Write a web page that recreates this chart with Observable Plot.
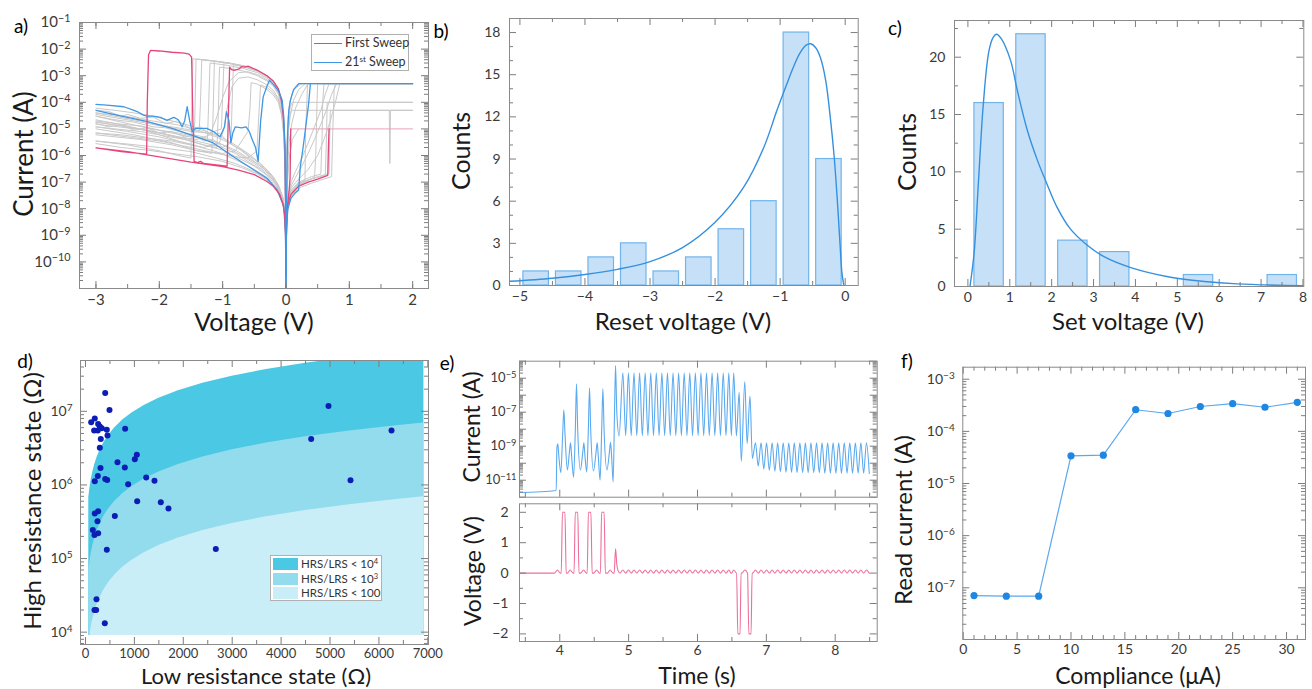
<!DOCTYPE html>
<html><head><meta charset="utf-8">
<script src="https://cdn.jsdelivr.net/npm/d3@7"></script>
<script src="https://cdn.jsdelivr.net/npm/@observablehq/plot@0.6"></script>
<style>
body{margin:0;background:#fff;}
#fig{position:relative;width:1312px;height:689px;overflow:hidden;font-family:Lato,"Noto Sans",sans-serif;background:#fff;}
.lab{position:absolute;white-space:nowrap;color:#1a1a1a;transform:translate(-50%,-50%);line-height:1;}
.rot{transform:translate(-50%,-50%) rotate(-90deg);}
.plab{position:absolute;white-space:nowrap;color:#000;font-size:19px;transform:translate(-50%,-50%);line-height:1;}
.leg{position:absolute;border:1px solid #b0b0b0;background:#fff;box-sizing:border-box;}
.leg .row{position:absolute;white-space:nowrap;line-height:1;color:#333;}
sup{font-size:0.65em;vertical-align:0.55em;line-height:0;}
</style></head><body><div id="fig"></div>
<script>
// ---------------- DATA ----------------
// (a) I-V sweeps: [voltage V, current A]
const redNeg = [[0,3e-11],[-0.004,4e-10],[-0.01,2e-9],[-0.02,6e-9],[-0.05,1.6e-8],[-0.1,3.5e-8],[-0.2,7e-8],[-0.3,1.05e-7],[-0.5,1.9e-7],[-0.75,2.8e-7],[-1.0,3.8e-7],[-1.25,4.6e-7],[-1.5,5.6e-7],[-2.0,8.9e-7],[-2.5,1.4e-6],[-3,1.95e-6],
 [-2.6,1.4e-6],[-2.2,1.12e-6],[-2.19,1e-4],[-2.17,6e-3],[-2.14,8.9e-3],[-2.0,8.5e-3],[-1.8,7.6e-3],[-1.6,7e-3],[-1.53,6.5e-3],[-1.49,5e-3],[-1.47,2e-5],[-1.45,6e-7],[-1.4,5.4e-7],[-1.35,6e-7],[-1.3,5e-7],[-1.1,4.4e-7],[-0.93,4e-7],[-0.91,3e-5],[-0.89,2.1e-3],[-0.86,1.7e-3],[-0.82,1.6e-3],[-0.78,1.7e-3],[-0.74,1.8e-3],[-0.7,2.2e-3],[-0.65,2.1e-3],[-0.6,2.3e-3],[-0.45,1.6e-3],[-0.3,1e-3],[-0.2,6.3e-4],[-0.12,3.2e-4],[-0.07,1.1e-4],[-0.04,2.5e-5],[-0.02,2.5e-6],[-0.01,1.6e-7],[-0.004,5e-9],[0,3e-11]];
const redPos = [[0,3e-11],[0.004,5e-10],[0.01,3e-9],[0.03,1.5e-8],[0.08,3.5e-8],[0.2,7e-8],[0.35,1e-7],[0.5,1.3e-7],[0.66,1.8e-7],[0.67,2e-6],[0.68,1e-5]];
const redCompliance = [[0.075,1e-5],[2,1e-5]];
const redReturn = [[0.075,1e-5],[0.07,1e-6],[0.065,1.5e-7],[0.05,5e-8],[0.02,1e-8],[0.005,6e-10],[0,3e-11]];
const bluePos = [[0,1e-11],[0.005,8e-10],[0.01,2.5e-9],[0.03,1e-8],[0.08,2.5e-8],[0.15,4e-8],[0.2,5e-8],[0.226,3.8e-7],[0.27,2e-6],[0.305,9e-6],[0.358,9e-5],[0.385,5e-4],[2,5e-4]];
const blueReturn = [[0.385,5e-4],[0.2,5e-4],[0.12,3e-4],[0.07,1.2e-4],[0.044,5e-5],[0.028,9e-6],[0.018,6.8e-7],[0.013,6.8e-8],[0.007,5e-9],[0.002,1e-10],[0,1e-11]];
const blueNeg = [[0,2e-11],[-0.009,9e-8],[-0.019,3.8e-6],[-0.035,2.8e-5],[-0.06,1.2e-4],[-0.11,2.5e-4],[-0.19,4.4e-4],[-0.26,6.8e-4],[-0.3,4e-4],[-0.36,1.6e-4],[-0.4,2e-5],[-0.44,6e-7],[-0.48,2e-6],[-0.53,3.8e-6],[-0.58,8e-6],[-0.63,1.2e-5],[-0.7,1.1e-5],[-0.8,1.2e-5],[-0.84,7e-6],[-0.87,3e-6],[-0.9,2e-5],[-0.94,4.4e-5],[-0.97,1.2e-5],[-1.04,5.1e-6],[-1.14,7.8e-6],[-1.25,1.05e-5],[-1.35,1.05e-5],[-1.43,1.05e-5],[-1.48,7.8e-6],[-1.52,2e-5],[-1.56,6.8e-5],[-1.6,2e-5],[-1.64,1.2e-5],[-1.7,2.2e-5],[-1.77,2.7e-5],[-1.88,2.1e-5],[-1.98,2.7e-5],[-2.1,3e-5],[-2.19,3e-5],[-2.25,3.3e-5],[-2.35,4.5e-5],[-2.4,5e-5],[-2.56,6.8e-5],[-2.83,7.8e-5],[-3,8.3e-5]];
const blueHRS = [[-3,5e-5],[-2.6,3e-5],[-2.2,1.9e-5],[-1.8,1.05e-5],[-1.42,5.1e-6],[-1.14,2.9e-6],[-0.83,9e-7],[-0.51,2.9e-7],[-0.3,1.4e-7],[-0.14,5.1e-8],[-0.035,1.2e-8],[-0.009,1.3e-9],[0,3e-11]];
const graySweeps = [
 [[0,3e-11],[-0.005,1e-8],[-0.01,1.6e-7],[-0.02,2.5e-6],[-0.04,2.5e-5],[-0.07,1.1e-4],[-0.12,3.2e-4],[-0.2,6.3e-4],[-0.3,1e-3],[-0.45,1.6e-3],[-0.65,2.3e-3],[-0.9,3e-3],[-1.1,3.5e-3],[-1.3,4e-3],[-1.42,4.2e-3],[-1.44,2e-5],[-1.46,2.5e-6],[-1.7,3.5e-6],[-2.0,6e-6],[-2.3,1e-5],[-2.7,1.6e-5],[-3,2.2e-5]],
 [[0,3e-11],[-0.005,8e-9],[-0.01,1.3e-7],[-0.02,2e-6],[-0.04,2e-5],[-0.07,9e-5],[-0.12,2.5e-4],[-0.2,5e-4],[-0.3,8e-4],[-0.45,1.3e-3],[-0.65,1.8e-3],[-0.9,2.4e-3],[-1.1,2.8e-3],[-1.2,3e-3],[-1.22,1e-4],[-1.24,4e-6],[-1.5,5e-6],[-1.8,7e-6],[-2.2,1.1e-5],[-2.6,1.8e-5],[-3,3e-5]],
 [[0,3e-11],[-0.005,6e-9],[-0.01,1e-7],[-0.02,1.6e-6],[-0.04,1.6e-5],[-0.07,7e-5],[-0.12,2e-4],[-0.2,4e-4],[-0.3,6.3e-4],[-0.45,1e-3],[-0.65,1.45e-3],[-0.9,1.9e-3],[-1.05,2.1e-3],[-1.07,3e-5],[-1.09,2e-6],[-1.3,2.5e-6],[-1.6,4e-6],[-2.0,7e-6],[-2.5,1.2e-5],[-3,1.8e-5]],
 [[0,3e-11],[-0.005,5e-9],[-0.01,7e-8],[-0.02,1.1e-6],[-0.04,1.1e-5],[-0.07,5e-5],[-0.12,1.4e-4],[-0.2,2.8e-4],[-0.3,4.5e-4],[-0.45,7e-4],[-0.6,9e-4],[-0.75,8e-4],[-0.85,4e-4],[-0.92,8e-5],[-0.98,1e-5],[-1.05,3e-6],[-1.3,2e-6],[-1.6,3e-6],[-2.0,5e-6],[-2.5,8e-6],[-3,1.2e-5]],
 [[0,3e-11],[-0.005,3e-9],[-0.01,5e-8],[-0.02,7.5e-7],[-0.04,7.5e-6],[-0.07,3.3e-5],[-0.12,1e-4],[-0.2,1.9e-4],[-0.3,3e-4],[-0.45,4.8e-4],[-0.55,5.5e-4],[-0.57,5e-5],[-0.6,8e-6],[-0.8,1.5e-6],[-1.0,1.2e-6],[-1.4,1.5e-6],[-1.8,2.5e-6],[-2.3,4e-6],[-3,6e-6]],
 [[0,3e-11],[-0.005,9e-9],[-0.01,1.5e-7],[-0.02,2.3e-6],[-0.04,2.3e-5],[-0.07,1e-4],[-0.12,3e-4],[-0.2,6e-4],[-0.3,9.5e-4],[-0.45,1.5e-3],[-0.65,2.2e-3],[-0.9,2.9e-3],[-1.1,3.4e-3],[-1.33,3.9e-3],[-1.35,1e-4],[-1.37,8e-6],[-1.6,1e-5],[-1.9,1.3e-5],[-2.3,2e-5],[-2.7,3e-5],[-3,4e-5]],
 [[0,3e-11],[-0.005,9e-9],[-0.01,1.4e-7],[-0.02,2.2e-6],[-0.04,2.2e-5],[-0.07,1e-4],[-0.12,2.9e-4],[-0.2,5.8e-4],[-0.3,9e-4],[-0.45,1.45e-3],[-0.65,2.1e-3],[-0.83,2.6e-3],[-0.85,1e-4],[-0.87,3e-6],[-1.0,2e-6],[-1.3,3e-6],[-1.7,5e-6],[-2.2,9e-6],[-3,1.5e-5]],
 [[0,3e-11],[-0.005,1e-8],[-0.01,1.6e-7],[-0.02,2.5e-6],[-0.04,2.4e-5],[-0.07,1.05e-4],[-0.12,3.1e-4],[-0.2,6.2e-4],[-0.3,1e-3],[-0.45,1.55e-3],[-0.65,2.25e-3],[-0.9,2.95e-3],[-1.13,3.5e-3],[-1.15,4e-5],[-1.17,1.2e-6],[-1.4,1.5e-6],[-1.8,3e-6],[-2.4,6e-6],[-3,1e-5]],
 [[0,3e-11],[-0.01,1.2e-7],[-0.02,1.8e-6],[-0.04,1.8e-5],[-0.07,8e-5],[-0.12,2.3e-4],[-0.2,4.6e-4],[-0.3,7e-4],[-0.45,1.1e-3],[-0.6,1.4e-3],[-0.75,1.3e-3],[-0.9,6e-4],[-1.0,1.5e-4],[-1.1,2.5e-5],[-1.2,6e-6],[-1.4,4e-6],[-1.7,5e-6],[-2.1,8e-6],[-2.6,1.3e-5],[-3,1.8e-5]],
 [[0,3e-11],[-0.01,1.6e-7],[-0.02,2.5e-6],[-0.04,2.5e-5],[-0.07,1.1e-4],[-0.12,3.2e-4],[-0.2,6.3e-4],[-0.3,1e-3],[-0.45,1.6e-3],[-0.65,2.3e-3],[-0.9,3e-3],[-1.1,3.5e-3],[-1.3,4e-3],[-1.47,4.3e-3],[-1.49,3e-5],[-1.5,8e-7],[-1.7,1e-6],[-2.0,1.5e-6],[-2.5,2.5e-6],[-3,3.5e-6]],
 [[0,3e-11],[-0.01,6e-8],[-0.02,9e-7],[-0.04,9e-6],[-0.07,4e-5],[-0.12,1.2e-4],[-0.2,2.3e-4],[-0.3,3.6e-4],[-0.4,4.5e-4],[-0.43,3e-5],[-0.46,1.5e-6],[-0.6,8e-7],[-0.8,9e-7],[-1.1,1.2e-6],[-1.5,2e-6],[-2.0,3.5e-6],[-2.5,5e-6],[-3,7e-6]],
 [[0,3e-11],[-0.01,1.5e-7],[-0.02,2.4e-6],[-0.04,2.4e-5],[-0.07,1.05e-4],[-0.12,3e-4],[-0.2,6e-4],[-0.3,9.8e-4],[-0.45,1.55e-3],[-0.65,2.25e-3],[-0.9,2.9e-3],[-0.98,3.1e-3],[-1.0,1.5e-4],[-1.02,1e-5],[-1.2,7e-6],[-1.5,8e-6],[-1.9,1.2e-5],[-2.4,2e-5],[-3,3.5e-5]],
 [[-3,6e-5],[-2.7,5e-5],[-2.4,4e-5],[-2.1,3e-5],[-1.8,2e-5],[-1.5,1.3e-5],[-1.2,7e-6],[-1.0,4.5e-6],[-0.8,2.5e-6],[-0.6,1.2e-6],[-0.4,5e-7],[-0.25,2.2e-7],[-0.12,8e-8],[-0.05,2.5e-8],[-0.02,8e-9],[-0.008,1.5e-9],[0,3e-11]],
 [[-3,4e-5],[-2.6,3.2e-5],[-2.3,2.4e-5],[-2.0,1.8e-5],[-1.7,1.4e-5],[-1.4,9e-6],[-1.1,5e-6],[-0.9,3e-6],[-0.7,1.6e-6],[-0.5,7e-7],[-0.3,2.8e-7],[-0.15,1e-7],[-0.06,3e-8],[-0.02,8e-9],[-0.008,1.5e-9],[0,3e-11]],
 [[-3,3e-5],[-2.7,2.2e-5],[-2.4,1.8e-5],[-2.1,1.2e-5],[-1.9,1.1e-5],[-1.6,7e-6],[-1.3,5e-6],[-1.0,2.5e-6],[-0.7,1e-6],[-0.5,5e-7],[-0.3,2.2e-7],[-0.15,8e-8],[-0.06,2.5e-8],[-0.02,7e-9],[-0.008,1.2e-9],[0,3e-11]],
 [[-3,2e-5],[-2.6,1.5e-5],[-2.3,1.3e-5],[-2.0,9e-6],[-1.7,7e-6],[-1.4,5e-6],[-1.1,3.2e-6],[-0.8,1.6e-6],[-0.6,8e-7],[-0.4,4e-7],[-0.2,1.6e-7],[-0.1,6e-8],[-0.04,2e-8],[-0.015,5e-9],[-0.005,8e-10],[0,3e-11]],
 [[-3,1.2e-5],[-2.7,1e-5],[-2.3,8e-6],[-2.0,6e-6],[-1.6,4e-6],[-1.3,2.5e-6],[-1.0,1.6e-6],[-0.75,8e-7],[-0.5,4e-7],[-0.3,1.8e-7],[-0.15,7e-8],[-0.05,2.2e-8],[-0.015,5e-9],[-0.005,8e-10],[0,3e-11]],
 [[-3,7e-6],[-2.6,6e-6],[-2.2,4.5e-6],[-1.8,3.5e-6],[-1.4,2.2e-6],[-1.1,1.4e-6],[-0.8,7e-7],[-0.55,3.5e-7],[-0.3,1.5e-7],[-0.15,6e-8],[-0.05,2e-8],[-0.015,4e-9],[-0.005,7e-10],[0,3e-11]],
 [[-3,3.5e-6],[-2.5,2.7e-6],[-2.0,2e-6],[-1.5,1.4e-6],[-1.1,8e-7],[-0.8,5e-7],[-0.5,2.5e-7],[-0.3,1.3e-7],[-0.15,5e-8],[-0.05,1.8e-8],[-0.015,4e-9],[-0.005,6e-10],[0,3e-11]],
 [[-3,5e-5],[-2.8,4.5e-5],[-2.6,3e-5],[-2.5,3.5e-5],[-2.3,2.5e-5],[-2.1,2.8e-5],[-1.9,1.6e-5],[-1.7,2e-5],[-1.5,1e-5],[-1.35,1.2e-5],[-1.2,6e-6],[-1.05,7e-6],[-0.9,3e-6],[-0.7,1.5e-6],[-0.5,6e-7],[-0.3,2.5e-7],[-0.15,9e-8],[-0.05,2.8e-8],[-0.015,6e-9],[-0.005,9e-10],[0,3e-11]],
 [[-3,1.6e-5],[-2.8,1.2e-5],[-2.6,1.4e-5],[-2.4,9e-6],[-2.2,1.1e-5],[-2.0,7e-6],[-1.8,8e-6],[-1.6,5e-6],[-1.45,6e-6],[-1.3,3.5e-6],[-1.15,4e-6],[-1.0,2e-6],[-0.8,1.2e-6],[-0.6,6e-7],[-0.4,3e-7],[-0.2,1.2e-7],[-0.08,4e-8],[-0.02,8e-9],[-0.006,1e-9],[0,3e-11]],
 [[-3,2.8e-6],[-2.6,2e-6],[-2.2,1.6e-6],[-1.8,1.2e-6],[-1.4,9e-7],[-1.0,6e-7],[-0.7,3.5e-7],[-0.45,2e-7],[-0.25,1e-7],[-0.1,4e-8],[-0.03,1.2e-8],[-0.01,3e-9],[0,3e-11]],
 [[0,3e-11],[0.005,6e-10],[0.01,3e-9],[0.03,1.5e-8],[0.08,4e-8],[0.2,8e-8],[0.35,1.2e-7],[0.45,1.5e-7],[0.47,1e-6],[0.48,1e-5],[0.49,1e-4],[0.5,5e-4],[2,5e-4]],
 [[0,3e-11],[0.005,8e-10],[0.01,4e-9],[0.03,2e-8],[0.08,5e-8],[0.2,1e-7],[0.4,1.6e-7],[0.55,2e-7],[0.57,5e-6],[0.58,1e-4],[0.6,5e-4],[2,5e-4]],
 [[0,3e-11],[0.005,5e-10],[0.01,2.5e-9],[0.03,1.2e-8],[0.08,3e-8],[0.2,6e-8],[0.4,9e-8],[0.6,1.3e-7],[0.72,1.6e-7],[0.74,1e-5],[0.76,3e-4],[0.78,5e-4],[2,5e-4]],
 [[0,3e-11],[0.005,1e-9],[0.01,5e-9],[0.03,2.5e-8],[0.08,7e-8],[0.15,1.5e-7],[0.25,4e-7],[0.35,1.2e-6],[0.45,4e-6],[0.55,1.5e-5],[0.65,6e-5],[0.72,2e-4],[0.8,5e-4],[2,5e-4]],
 [[0,3e-11],[0.005,1.2e-9],[0.01,6e-9],[0.03,3e-8],[0.08,1e-7],[0.15,2.5e-7],[0.25,8e-7],[0.35,3e-6],[0.45,1.2e-5],[0.55,5e-5],[0.62,2e-4],[0.68,5e-4],[2,5e-4]],
 [[0,3e-11],[0.005,7e-10],[0.01,3.5e-9],[0.03,1.7e-8],[0.08,4.5e-8],[0.2,9e-8],[0.3,1.2e-7],[0.31,1e-5],[0.33,1e-4],[0.34,5e-4],[2,5e-4]],
 [[0,3e-11],[0.005,6e-10],[0.01,3e-9],[0.03,1.5e-8],[0.08,4e-8],[0.2,8e-8],[0.4,1.3e-7],[0.62,1.8e-7],[0.64,5e-6],[0.65,1e-4],[2,1e-4]],
 [[0,3e-11],[0.005,6e-10],[0.01,3e-9],[0.03,1.5e-8],[0.08,4e-8],[0.25,1e-7],[0.5,1.6e-7],[0.68,2.1e-7],[0.69,5e-6],[0.7,5e-5],[1.63,5e-5],[1.64,5e-7],[1.65,5e-5],[2,5e-5]],
 [[0,3e-11],[0.005,8e-10],[0.01,4e-9],[0.03,2e-8],[0.08,6e-8],[0.2,1.3e-7],[0.35,3e-7],[0.5,1e-6],[0.6,4e-6],[0.7,2e-5],[0.78,1e-4],[0.85,5e-4],[2,5e-4]],
 [[2,5e-4],[0.25,5e-4],[0.15,3.5e-4],[0.1,2.2e-4],[0.06,1e-4],[0.035,3e-5],[0.02,6e-6],[0.01,3e-7],[0.005,5e-9],[0,3e-11]],
 [[2,1e-4],[0.1,1e-4],[0.07,7e-5],[0.04,2.5e-5],[0.02,4e-6],[0.01,2e-7],[0.004,5e-9],[0,3e-11]],
 [[2,5e-5],[0.09,5e-5],[0.06,3e-5],[0.035,1e-5],[0.02,2e-6],[0.01,1e-7],[0.004,4e-9],[0,3e-11]],
 [[0.3,5e-4],[0.2,3e-4],[0.12,1.2e-4],[0.07,3.5e-5],[0.04,8e-6],[0.02,1e-6],[0.01,5e-8],[0,3e-11]],
 [[0.35,5e-4],[0.25,2e-4],[0.15,6e-5],[0.09,1.5e-5],[0.05,3e-6],[0.025,4e-7],[0.01,2e-8],[0,3e-11]],
 [[0.2,1e-5],[0.1,4e-6],[0.05,8e-7],[0.02,7e-8],[0.008,5e-9],[0,3e-11]]
];

// (b) reset voltage histogram
const resetBinStart = [-5,-4.5,-4,-3.5,-3,-2.5,-2,-1.5,-1,-0.5];
const resetCounts = [1,1,2,3,1,2,4,6,18,9];
const resetFit = [[-5.16,0.3],[-4.5,0.52],[-4.0,0.78],[-3.5,1.15],[-3.0,1.7],[-2.5,2.7],[-2.0,4.5],[-1.56,7.0],[-1.25,9.84],[-1.05,12.45],[-0.9,14.3],[-0.8,15.5],[-0.7,16.5],[-0.6,17.1],[-0.53,17.2],[-0.45,16.9],[-0.38,16.2],[-0.3,14.6],[-0.23,12.0],[-0.17,9.2],[-0.12,6.0],[-0.08,3.0],[-0.05,0.9],[-0.02,0]];
// (c) set voltage histogram
const setBinStart = [0,1,2,3,4,5,6,7];
const setCounts = [16,22,4,3,0,1,0,1];
const setFit = [[0.05,0],[0.15,3],[0.25,9],[0.37,16],[0.5,20.5],[0.6,21.7],[0.68,22],[0.8,21.6],[1.02,19.7],[1.18,17.1],[1.42,13.6],[1.66,11.0],[1.87,9.1],[2.13,6.9],[2.45,5.0],[2.85,3.6],[3.25,2.6],[3.89,1.65],[4.84,0.81],[5.64,0.44],[6.43,0.23],[8.02,0.06]];
// (d) HRS vs LRS
const lrsValues = [403,491,116,190,177,259,293,334,252,436,313,450,293,811,307,654,804,1009,1050,252,403,444,190,872,1241,1411,1057,1540,1697,600,259,190,245,150,259,184,436,2665,225,184,218,395,4969,6258,4615,5419];
const hrsValues = [1.78e7,1.04e7,7.1e6,7.96e6,5.5e6,6.7e6,6.2e6,5.9e6,5.5e6,5.6e6,4.2e6,4.7e6,3.2e6,5.8e6,1.7e6,2.04e6,1.72e6,2.23e6,2.57e6,1.32e6,1.2e6,1.17e6,1.12e6,1.02e6,1.26e6,1.14e6,6.0e5,5.8e5,4.8e5,3.77e5,4.4e5,4.1e5,3.2e5,2.45e5,2.2e5,2.09e5,1.32e5,1.35e5,2.8e4,2.0e4,2.0e4,1.32e4,1.18e7,5.5e6,4.2e6,1.16e6];
const ratioLimits = [1e4, 1e3, 100];
const ratioLabels = ["HRS/LRS &lt; 10<sup>4</sup>","HRS/LRS &lt; 10<sup>3</sup>","HRS/LRS &lt; 100"];
const lrsGrid = [67,75,85,100,120,150,190,240,300,380,480,600,760,950,1200,1500,1900,2400,3000,3700,4500,5400,6400,6920];
const hrsFloor = 9e3;
// (e) pulse response: current trace [time s, current A]
const eCurrent = [[3.415,1.9e-12],[3.948,2.5e-12],[3.958,8e-10],[3.972,1.4e-9],[3.985,3e-10],[4.015,2.8e-11],
[4.042,5e-9],[4.059,1.4e-7],[4.076,5e-9],[4.11,4e-11],[4.141,5e-10],[4.156,1.6e-9],[4.171,3e-10],[4.2,1.5e-11],
[4.226,1e-8],[4.243,4.7e-6],[4.26,1e-8],[4.3,4e-11],[4.335,5e-10],[4.35,1.6e-9],[4.365,3e-10],[4.392,3e-11],
[4.415,1e-8],[4.432,2.6e-6],[4.449,1e-8],[4.49,3.5e-11],[4.528,5e-10],[4.543,1.6e-9],[4.558,3e-10],[4.585,1e-11],
[4.609,1e-8],[4.626,2.4e-6],[4.643,1e-8],[4.685,4e-11],[4.722,5e-10],[4.737,1.7e-9],[4.752,3e-10],[4.775,8e-12],
[4.795,1e-7],[4.81,5.5e-5],[4.828,1e-7],[4.862,4e-9],
[4.916,2.1e-5],[4.957,4.2e-9],[4.997,2.1e-5],[5.037,4.2e-9],[5.078,2.1e-5],[5.118,4.2e-9],[5.159,2.1e-5],[5.199,4.2e-9],[5.240,2.1e-5],[5.280,4.2e-9],[5.321,2.1e-5],[5.361,4.2e-9],[5.402,2.1e-5],[5.442,4.2e-9],[5.483,2.1e-5],[5.523,4.2e-9],[5.564,2.1e-5],[5.604,4.2e-9],[5.645,2.1e-5],[5.685,4.2e-9],[5.726,2.1e-5],[5.766,4.2e-9],[5.807,2.1e-5],[5.847,4.2e-9],[5.888,2.1e-5],[5.928,4.2e-9],[5.969,2.1e-5],[6.009,4.2e-9],[6.050,2.1e-5],[6.090,4.2e-9],[6.131,2.1e-5],[6.171,4.2e-9],[6.212,2.1e-5],[6.252,4.2e-9],[6.293,2.1e-5],[6.333,4.2e-9],[6.374,2.1e-5],[6.414,4.2e-9],[6.455,2.1e-5],[6.492,4.2e-9],[6.526,2.1e-5],[6.565,4e-9],
[6.605,1.5e-6],[6.636,1.3e-10],[6.687,6.4e-6],[6.721,1.4e-9],[6.762,9e-7],[6.797,1.9e-10],
[6.842,1.6e-9],[6.882,6.8e-11],[6.923,1.6e-9],[6.963,4.6e-11],[7.003,1.6e-9],[7.043,3.8e-11],[7.084,1.6e-9],[7.124,3.4e-11],[7.164,1.6e-9],[7.204,3.1e-11],[7.245,1.6e-9],[7.285,3e-11],[7.326,1.6e-9],[7.366,2.9e-11],[7.406,1.6e-9],[7.446,2.8e-11],[7.487,1.6e-9],[7.527,2.8e-11],[7.567,1.6e-9],[7.607,2.7e-11],[7.648,1.6e-9],[7.688,2.7e-11],[7.729,1.6e-9],[7.769,2.7e-11],[7.809,1.6e-9],[7.849,2.6e-11],[7.890,1.6e-9],[7.930,2.6e-11],[7.970,1.6e-9],[8.010,2.6e-11],[8.051,1.6e-9],[8.091,2.6e-11],[8.132,1.6e-9],[8.172,2.6e-11],[8.212,1.6e-9],[8.252,2.6e-11],[8.293,1.6e-9],[8.333,2.6e-11],[8.373,1.6e-9],[8.413,2.6e-11],[8.454,1.6e-9],[8.495,2.5e-11]];
// (e) voltage pulses: read pulses (0.1 V), set pulses (2 V), partial pulse, reset pulses (-2 V)
const readTimes = [3.965,4.152,4.345,4.535,4.732,4.916,4.997,5.078,5.159,5.240,5.321,5.402,5.483,5.564,5.645,5.726,5.807,5.888,5.969,6.050,6.131,6.212,6.293,6.374,6.455,6.526,6.687,6.842,6.923,7.003,7.084,7.164,7.245,7.326,7.406,7.487,7.567,7.648,7.729,7.809,7.890,7.970,8.051,8.132,8.212,8.293,8.373,8.454];
const readLevel = 0.1;
const setPulseTimes = [4.057,4.243,4.434,4.626];
const setPulseLevel = 2;
const partialPulse = {t: 4.81, v: 0.8};
const resetPulseTimes = [6.60,6.76];
const resetPulseLevel = -2;
// (f) read current vs compliance
const compliance = [1,4,7,10,13,16,19,22,25,28,31];
const readCurrent = [7.1e-8,6.9e-8,6.9e-8,3.4e-5,3.5e-5,2.6e-4,2.2e-4,3.0e-4,3.4e-4,2.9e-4,3.6e-4];

// ---------------- HELPERS ----------------
const fig = document.getElementById("fig");
const minus = d => d < 0 ? "−" + Math.abs(d) : String(d);
const pow10 = d => "10^" + minus(Math.round(Math.log10(d)));
function logMajor(lo, hi){const r=[];for(let e=Math.ceil(Math.log10(lo)-1e-9);e<=Math.floor(Math.log10(hi)+1e-9);e++)r.push(+("1e"+e));return r;}
function logMinor(lo, hi){const r=[];for(let e=Math.floor(Math.log10(lo))-1;e<=Math.ceil(Math.log10(hi));e++)for(let k=2;k<=9;k++){const v=+(k+"e"+e);if(v>=lo&&v<=hi)r.push(v);}return r;}
function lin(a,b,s){const r=[];for(let v=a;v<=b+1e-9;v+=s)r.push(+v.toFixed(6));return r;}
const TC = "#7d7d7d";
function frameTicks(iw, ih, xMaj, xMin, yMaj, yMin){
  const out=[];
  [[xMaj,7],[xMin,4]].forEach(([v,L])=>{ if(!v.length) return;
    out.push(Plot.tickX(v,{x:d=>d,insetTop:ih-L,stroke:TC}));
    out.push(Plot.tickX(v,{x:d=>d,insetBottom:ih-L,stroke:TC}));});
  [[yMaj,7],[yMin,4]].forEach(([v,L])=>{ if(!v.length) return;
    out.push(Plot.tickY(v,{y:d=>d,insetRight:iw-L,stroke:TC}));
    out.push(Plot.tickY(v,{y:d=>d,insetLeft:iw-L,stroke:TC}));});
  return out;
}
function supify(svg){
  const ns="http://www.w3.org/2000/svg";
  svg.querySelectorAll("text").forEach(t=>{
    const m=/^10\^(.+)$/.exec(t.textContent); if(!m) return;
    while(t.firstChild) t.removeChild(t.firstChild);
    const a=document.createElementNS(ns,"tspan"); a.textContent="10"; t.appendChild(a);
    const b=document.createElementNS(ns,"tspan"); b.textContent=m[1]; b.setAttribute("dy","-0.5em"); b.setAttribute("font-size","0.72em"); t.appendChild(b);
  });
}
function panel(left, top, w, h, m, opts){
  const svg = Plot.plot({width:w, height:h, marginLeft:m[0], marginRight:m[1], marginTop:m[2], marginBottom:m[3],
    style:{background:"transparent", fontFamily:"Lato, 'Noto Sans', sans-serif", fontSize:"14px", color:"#3a3a3a", overflow:"visible", maxWidth:"none"}, ...opts});
  supify(svg);
  svg.style.position="absolute"; svg.style.left=left+"px"; svg.style.top=top+"px";
  fig.appendChild(svg);
}
function label(text, cx, cy, size, rot){
  const d=document.createElement("div"); d.className="lab"+(rot?" rot":""); d.innerHTML=text;
  d.style.left=cx+"px"; d.style.top=cy+"px"; d.style.fontSize=size+"px"; fig.appendChild(d);
}
function plab(text, cx, cy){const d=document.createElement("div");d.className="plab";d.textContent=text;d.style.left=cx+"px";d.style.top=cy+"px";fig.appendChild(d);}
const frame = Plot.frame({stroke:"#8a8a8a"});
const toRows = (arr,k)=>arr.map(p=>({x:p[0],y:p[1],k}));
const AX = {tickSize:0, fontSize:14, fill:"#3a3a3a", label:null};

// ---------------- PANEL A ----------------
{
  const m=[79,12,22,32], w=440, h=320, iw=w-m[0]-m[1], ih=h-m[2]-m[3];
  const yd=[1e-11,1e-1];
  const gray = graySweeps.flatMap((c,i)=>toRows(c,i));
  panel(0,0,w,h,m,{
    x:{domain:[-3.26,2.25],axis:null}, y:{type:"log",domain:yd,axis:null},
    marks:[
      Plot.line(gray,{x:"x",y:"y",z:"k",stroke:"#c9c9c9",strokeWidth:1,clip:true}),
      Plot.line(toRows(redCompliance,0),{x:"x",y:"y",stroke:"#e8a3b8",strokeWidth:1,clip:true}),
      Plot.line(toRows(blueHRS,0),{x:"x",y:"y",stroke:"#3f97e3",strokeWidth:1.3,clip:true}),
      Plot.line(toRows(redNeg,0),{x:"x",y:"y",stroke:"#e6457a",strokeWidth:1.3,clip:true}),
      Plot.line(toRows(redPos,0),{x:"x",y:"y",stroke:"#e6457a",strokeWidth:1.3,clip:true}),
      Plot.line(toRows(redReturn,0),{x:"x",y:"y",stroke:"#e6457a",strokeWidth:1.3,clip:true}),
      Plot.line(toRows(blueNeg,0),{x:"x",y:"y",stroke:"#3f97e3",strokeWidth:1.3,clip:true}),
      Plot.line(toRows(bluePos,0),{x:"x",y:"y",stroke:"#3f97e3",strokeWidth:1.3,clip:true}),
      Plot.line(toRows(blueReturn,0),{x:"x",y:"y",stroke:"#3f97e3",strokeWidth:1.3,clip:true}),
      ...frameTicks(iw,ih,lin(-3,2,1),lin(-3,2,0.5),logMajor(...yd),logMinor(...yd)),
      frame,
      Plot.axisX(lin(-3,2,1),{...AX,tickPadding:6,tickFormat:minus,fontSize:15}),
      Plot.axisY(logMajor(1e-10,1e-1),{...AX,tickPadding:9,tickFormat:pow10,fontSize:15})
    ]});
  const L=document.createElement("div"); L.className="leg";
  Object.assign(L.style,{left:"311px",top:"34px",width:"98px",height:"37px"});
  L.innerHTML = `<div style="position:absolute;left:2px;top:8px;width:28px;height:0;border-top:1.3px solid #e6457a"></div>
   <div class="row" style="left:33px;top:2px;font-size:12.5px">First Sweep</div>
   <div style="position:absolute;left:2px;top:27px;width:28px;height:0;border-top:1.3px solid #3f97e3"></div>
   <div class="row" style="left:33px;top:21px;font-size:12.5px">21<sup>st</sup> Sweep</div>`;
  fig.appendChild(L);
}
// ---------------- PANEL B ----------------
{
  const m=[69,12.3,18,35], w=430, h=320, iw=w-m[0]-m[1], ih=h-m[2]-m[3];
  const bars=resetBinStart.map((s,i)=>({x1:s,x2:s+0.5,c:resetCounts[i]}));
  panel(440,0,w,h,m,{
    x:{domain:[-5.16,0.2],axis:null}, y:{domain:[0,19],axis:null},
    marks:[
      Plot.rectY(bars,{x1:"x1",x2:"x2",y:"c",insetLeft:3.5,insetRight:3.5,fill:"#c6e1f7",stroke:"#72b4ec",strokeWidth:1.2}),
      Plot.line(toRows(resetFit,0),{x:"x",y:"y",stroke:"#3590e0",strokeWidth:1.4,curve:"catmull-rom",clip:true}),
      ...frameTicks(iw,ih,lin(-5,0,1),lin(-4.5,-0.5,1),lin(0,18,3),lin(1,19,1).filter(v=>v%3)),
      frame,
      Plot.axisX(lin(-5,0,1),{...AX,tickPadding:6,tickFormat:minus}),
      Plot.axisY(lin(0,18,3),{...AX,tickPadding:9})
    ]});
}
// ---------------- PANEL C ----------------
{
  const m=[84,8.7,20,34], w=442, h=320, iw=w-m[0]-m[1], ih=h-m[2]-m[3];
  const bars=setBinStart.map((s,i)=>({x1:s,x2:s+1,c:setCounts[i]})).filter(d=>d.c>0);
  panel(870,0,w,h,m,{
    x:{domain:[-0.32,8.02],axis:null}, y:{domain:[0,23.2],axis:null},
    marks:[
      Plot.rectY(bars,{x1:"x1",x2:"x2",y:"c",insetLeft:6.5,insetRight:6,fill:"#c6e1f7",stroke:"#72b4ec",strokeWidth:1.2}),
      Plot.line(toRows(setFit,0),{x:"x",y:"y",stroke:"#3590e0",strokeWidth:1.4,curve:"catmull-rom",clip:true}),
      ...frameTicks(iw,ih,lin(0,8,1),lin(0.5,7.5,1),lin(0,20,5),lin(2.5,22.5,5)),
      frame,
      Plot.axisX(lin(0,8,1),{...AX,tickPadding:6}),
      Plot.axisY(lin(0,20,5),{...AX,tickPadding:9})
    ]});
}
// ---------------- PANEL D ----------------
{
  const m=[80,12,30,26], w=440, h=340, iw=w-m[0]-m[1], ih=h-m[2]-m[3];
  const yd=[6.8e3,4.9e7];
  const bandColors=["#4bc8e3","#93dcee","#c9eef7"];
  const band = r => lrsGrid.map(x=>({lrs:x,hrs:x*r})).filter(d=>d.hrs>=hrsFloor);
  const pts = lrsValues.map((x,i)=>({lrs:x,hrs:hrsValues[i]}));
  panel(0,330,w,h,m,{
    x:{domain:[-102,7014],axis:null}, y:{type:"log",domain:yd,axis:null},
    marks:[
      ...ratioLimits.map((r,i)=>Plot.areaY(band(r),{x:"lrs",y1:hrsFloor,y2:"hrs",fill:bandColors[i],clip:true})),
      Plot.dot(pts,{x:"lrs",y:"hrs",r:3,fill:"#0c1db5",stroke:"none"}),
      ...frameTicks(iw,ih,lin(0,7000,1000),lin(500,6500,1000),logMajor(...yd),logMinor(...yd)),
      frame,
      Plot.axisX(lin(0,7000,1000),{...AX,tickPadding:4,fontSize:13,tickFormat:d=>String(d)}),
      Plot.axisY(logMajor(...yd),{...AX,tickPadding:8,tickFormat:pow10})
    ]});
  const L=document.createElement("div"); L.className="leg";
  Object.assign(L.style,{left:"270px",top:"555px",width:"112px",height:"46px"});
  L.innerHTML = ratioLimits.map((r,i)=>`<div style="position:absolute;left:2px;top:${2+i*14.5}px;width:25px;height:12px;background:${bandColors[i]}"></div>
   <div class="row" style="left:30px;top:${2+i*14.5}px;font-size:11.5px">${ratioLabels[i]}</div>`).join("");
  fig.appendChild(L);
}
// ---------------- PANEL E ----------------
{
  const xd=[3.415,8.61];
  const m1=[79,3.3,15.7,3.3], w=440, h1=155, iw=w-m1[0]-m1[1], ih1=h1-m1[2]-m1[3];
  const yd=[1e-12,1e-4];
  panel(440,345,w,h1,m1,{
    x:{domain:xd,axis:null}, y:{type:"log",domain:yd,axis:null},
    marks:[
      Plot.line(toRows(eCurrent,0),{x:"x",y:"y",stroke:"#5aaaf0",strokeWidth:1.1,curve:"monotone-x",clip:true}),
      ...frameTicks(iw,ih1,lin(4,8,1),lin(3.5,8.5,1),logMajor(...yd),logMinor(...yd)),
      frame,
      Plot.axisY([1e-5,1e-7,1e-9,1e-11],{...AX,tickPadding:3,tickFormat:pow10,fontSize:13})
    ]});
  const verts=[[3.415,0],[3.92,0]];
  readTimes.forEach(t=>verts.push([t-0.04,0],[t,readLevel],[t+0.04,0]));
  setPulseTimes.forEach(t=>verts.push([t-0.036,0],[t-0.018,setPulseLevel],[t+0.018,setPulseLevel],[t+0.036,0]));
  verts.push([partialPulse.t-0.02,0],[partialPulse.t,partialPulse.v],[partialPulse.t+0.02,0.25],[partialPulse.t+0.05,0.02]);
  resetPulseTimes.forEach(t=>verts.push([t-0.032,0],[t-0.014,resetPulseLevel],[t+0.018,resetPulseLevel],[t+0.033,0]));
  verts.sort((a,b)=>a[0]-b[0]);
  const vt=[]; verts.forEach(p=>{ if(!vt.length || p[0]>vt[vt.length-1][0]+1e-3) vt.push(p); });
  const m2=[79,3.3,3.3,39], h2=180, ih2=h2-m2[2]-m2[3];
  panel(440,500,w,h2,m2,{
    x:{domain:xd,axis:null}, y:{domain:[-2.25,2.28],axis:null},
    marks:[
      Plot.line(toRows(vt,0),{x:"x",y:"y",stroke:"#ef6f98",strokeWidth:1.1,curve:"monotone-x",clip:true}),
      ...frameTicks(iw,ih2,lin(4,8,1),lin(3.5,8.5,1),lin(-2,2,1),lin(-1.5,1.5,1)),
      frame,
      Plot.axisX(lin(4,8,1),{...AX,tickPadding:4}),
      Plot.axisY(lin(-2,2,1),{...AX,tickPadding:11,tickFormat:minus})
    ]});
}
// ---------------- PANEL F ----------------
{
  const m=[82.3,7,21.7,41], w=432, h=335, iw=w-m[0]-m[1], ih=h-m[2]-m[3];
  const yd=[1.02e-8,1.7e-3];
  const pts=compliance.map((c,i)=>({c,i:readCurrent[i]}));
  panel(880,345,w,h,m,{
    x:{domain:[-0.04,31.76],axis:null}, y:{type:"log",domain:yd,axis:null},
    marks:[
      Plot.line(pts,{x:"c",y:"i",stroke:"#5aa8f0",strokeWidth:1.2}),
      Plot.dot(pts,{x:"c",y:"i",r:3.6,fill:"#1e86e3",stroke:"none"}),
      ...frameTicks(iw,ih,lin(0,30,5),lin(1,31,1).filter(v=>v%5),logMajor(...yd),logMinor(...yd)),
      frame,
      Plot.axisX(lin(0,30,5),{...AX,tickPadding:5}),
      Plot.axisY(logMajor(...yd),{...AX,tickPadding:8,tickFormat:pow10})
    ]});
}
// ---------------- TITLES ----------------
label("Current (A)",23,154,26,true);
label("Voltage (V)",254,321,25,false);
label("Counts",460,151,25,true);
label("Reset voltage (V)",683,321,24,false);
label("Counts",906,152,25,true);
label("Set voltage (V)",1128,321,24,false);
label("High resistance state (Ω)",32,501,24,true);
label("Low resistance state (Ω)",256,676,22,false);
label("Current (A)",471,427,23,true);
label("Voltage (V)",472,571,23,true);
label("Time (s)",697,675,23,false);
label("Read current (A)",903,520,24,true);
label("Compliance (μA)",1138,675,23,false);
plab("a)",21,25); plab("b)",441,30); plab("c)",895,27);
plab("d)",25,360); plab("e)",447,362); plab("f)",907,360);
</script></body></html>
